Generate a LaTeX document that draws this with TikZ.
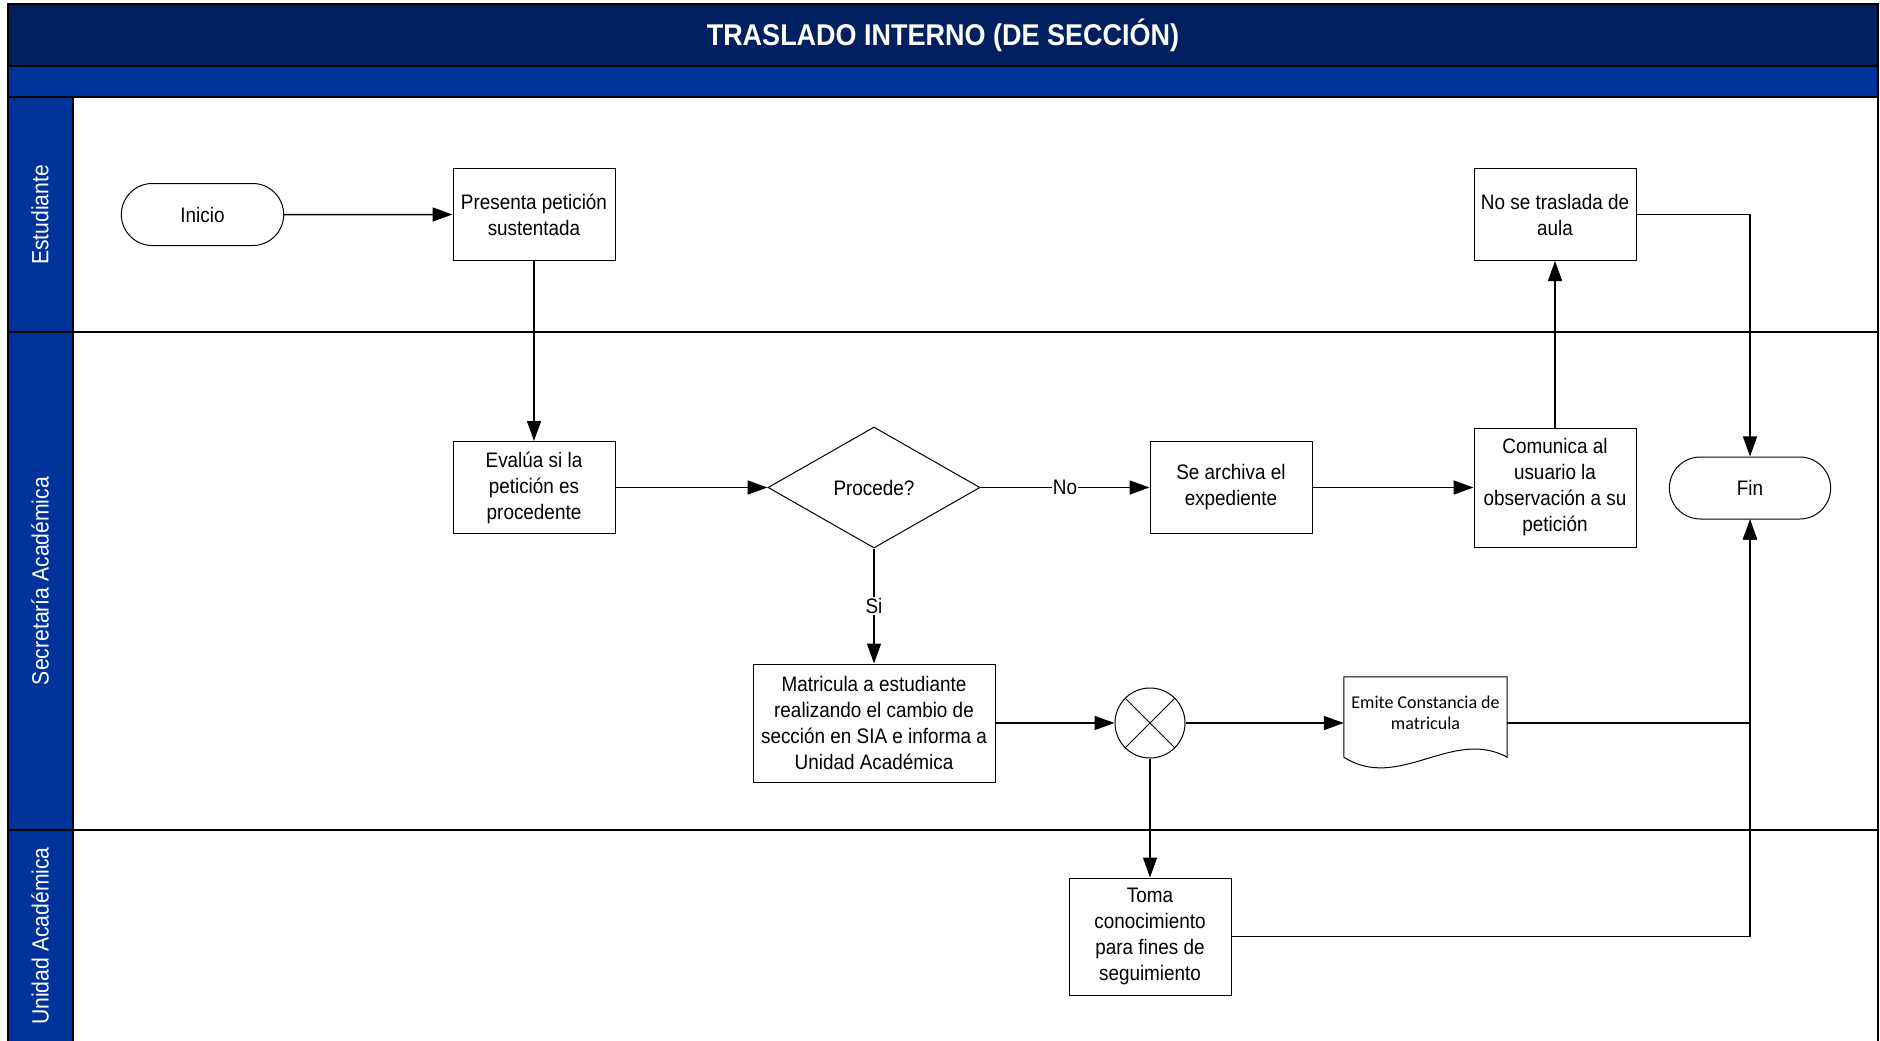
\documentclass[tikz,border=0pt]{standalone}
\usepackage{fontspec}
\setmainfont{Liberation Sans}[FakeStretch=0.9]
\newfontfamily\docfont{Carlito}
\usetikzlibrary{shapes.geometric,shapes.misc,arrows.meta,calc}
\definecolor{navy}{HTML}{002060}
\definecolor{lane}{HTML}{003399}

\begin{document}
\begin{tikzpicture}[x=1pt,y=-1pt,
  every node/.style={font=\fontsize{21}{26}\selectfont},
  box/.style={draw, line width=1pt, fill=white, align=center, minimum width=162pt, minimum height=92pt, inner sep=2pt},
  term/.style={draw, line width=1pt, fill=white, rounded rectangle, minimum width=169pt, minimum height=62pt},
  lanetext/.style={rotate=90, text=white, font=\fontsize{23.5}{28}\selectfont},
  flow/.style={line width=1.5pt, -{Triangle[length=20pt,width=14pt]}}]
  \useasboundingbox (0,0) rectangle (1880,1041);
  % pool and lanes
  \fill[navy] (8,4) rectangle (1878,66);
  \fill[lane] (8,66) rectangle (1878,97);
  \fill[lane] (8,97) rectangle (73,1045);
  \draw[line width=2pt] (8,1045) -- (8,4) -- (1878,4) -- (1878,1045);
  \draw[line width=2pt] (8,66) -- (1878,66) (8,97) -- (1878,97);
  \draw[line width=2pt] (73,97) -- (73,1045);
  \draw[line width=2pt] (8,332) -- (1878,332) (8,830) -- (1878,830);
  \node[text=white, font=\bfseries\fontsize{30}{36}\selectfont] (title) at (943,35) {TRASLADO INTERNO (DE SECCIÓN)};
  \node[lanetext] (estudiante) at (40,215) {Estudiante};
  \node[lanetext] (secretaria) at (40,581) {Secretaría Académica};
  \node[lanetext] (unidad) at (40,936) {Unidad Académica};

  % steps
  \node[term] (inicio) at (202.5,214.5) {Inicio};
  \node[box] (presenta) at (534,214.5) {Presenta petición\\sustentada};
  \node[box] (evalua) at (534,487.5) {Evalúa si la\\petición es\\procedente};
  \node[draw, diamond, aspect=1.75, minimum width=212pt, minimum height=121pt, inner sep=0pt, line width=1pt, fill=white] (procede) at (874,487.5) {Procede?};
  \node[box] (archiva) at (1231,487.5) {Se archiva el\\expediente};
  \node[box, minimum height=119pt] (comunica) at (1555,487.5) {Comunica al\\usuario la\\observación a su\\petición};
  \node[box] (notras) at (1555,214.5) {No se traslada de\\aula};
  \node[term, minimum width=168pt] (fin) at (1750,488) {Fin};
  \node[box, minimum width=242pt, minimum height=118pt] (matricula) at (874,723) {Matricula a estudiante\\realizando el cambio de\\sección en SIA e informa a\\Unidad Académica};
  \node[draw, circle, minimum size=70pt, inner sep=0pt, line width=1pt] (xo) at (1150,723) {};
  \draw[line width=1pt] (xo.north west) -- (xo.south east) (xo.north east) -- (xo.south west);
  \node[minimum width=163pt, minimum height=72pt, inner sep=0pt, align=center, font=\docfont\fontsize{18}{21}\selectfont] (emite) at (1425.5,713) {Emite Constancia de\\matricula};
  \draw[line width=1pt] ($(emite.south west)+(0,8)$) -- (emite.north west) -- (emite.north east) -- ($(emite.south east)+(0,8)$)
    .. controls +(-55,-30) and +(55,35) .. ($(emite.south west)+(0,8)$);
  \node[box, minimum height=117pt] (toma) at (1150,936.5) {Toma\\conocimiento\\para fines de\\seguimiento};

  % connectors
  \draw[flow] (inicio) -- (presenta);
  \draw[flow] (presenta) -- (evalua);
  \draw[flow] (evalua) -- (procede);
  \draw[flow] (procede) -- node[fill=white, inner sep=1pt] (no) {No} (archiva);
  \draw[flow] (procede) -- node[fill=white, inner sep=1pt] (si) {Si} (matricula);
  \draw[flow] (archiva) -- (comunica);
  \draw[flow] (comunica) -- (notras);
  \draw[flow] (notras) -| (fin);
  \draw[flow] (matricula) -- (xo);
  \draw[flow] (xo) -- (xo -| emite.west);
  \draw[flow] (xo) -- (toma);
  \draw[flow] (xo -| emite.east) -| (fin);
  \draw[flow] (toma) -| (fin);
\end{tikzpicture}
\end{document}
